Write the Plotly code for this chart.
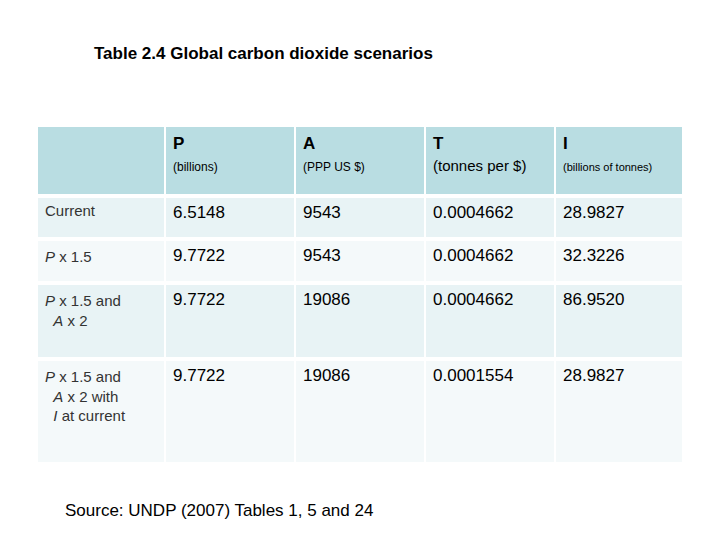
import plotly.graph_objects as go

title = "Table 2.4 Global carbon dioxide scenarios"
col_letters = ["", "P", "A", "T", "I"]
col_units = ["", "(billions)", "(PPP US $)", "(tonnes per $)", "(billions of tonnes)"]
unit_sizes = [12, 12, 12, 15, 11]
row_labels = ["Current", "<i>P</i> x 1.5", "<i>P</i> x 1.5 and<br>  <i>A</i> x 2",
              "<i>P</i> x 1.5 and<br>  <i>A</i> x 2 with<br>  <i>I</i> at current"]
P_vals = ["6.5148", "9.7722", "9.7722", "9.7722"]
A_vals = ["9543", "9543", "19086", "19086"]
T_vals = ["0.0004662", "0.0004662", "0.0004662", "0.0001554"]
I_vals = ["28.9827", "32.3226", "86.9520", "28.9827"]
source = "Source: UNDP (2007) Tables 1, 5 and 24"

W, H = 720, 540
OFF = 8
x0, x1 = 37 - OFF, 683 - OFF
row_tops = [t - OFF for t in [126, 197, 240, 284, 360, 465]]
row_colors = ["#b9dde2", "#e8f3f5", "#f4f9fa", "#e8f3f5", "#f4f9fa"]
col_w = [128, 130, 130, 130, 128]

fig = go.Figure()
hdr = []
for L, u, s in zip(col_letters, col_units, unit_sizes):
    hdr.append(f"<b>{L}</b><br><span style='font-size:{s}px'>{u}</span>" if L else "")
rows = [hdr] + [[row_labels[i], P_vals[i], A_vals[i], T_vals[i], I_vals[i]] for i in range(4)]
for k, r in enumerate(rows):
    top, bot = row_tops[k], row_tops[k + 1]
    h = bot - top
    sizes = [17] * 5 if k == 0 else [15, 17, 17, 17, 17]
    colors = ["black"] * 5 if k == 0 else ["#333333", "black", "black", "black", "black"]
    fig.add_trace(go.Table(
        domain=dict(x=[x0 / W, x1 / W], y=[1 - bot / H, 1 - top / H]),
        columnwidth=col_w,
        header=dict(values=r, height=h - 2, fill_color=row_colors[k],
                    line=dict(color="white", width=2), align="left",
                    font=dict(family="Liberation Sans, Arial", size=sizes, color=colors)),
        cells=dict(values=[[] for _ in r])))

fig.add_annotation(text=f"<b>{title}</b>", x=(92 - OFF) / W, y=1 - (53 - OFF) / H,
                   xref="paper", yref="paper", xanchor="left", yanchor="middle", showarrow=False,
                   font=dict(family="Liberation Sans, Arial", size=17, color="black"))
fig.add_annotation(text=source, x=(63 - OFF) / W, y=1 - (510 - OFF) / H,
                   xref="paper", yref="paper", xanchor="left", yanchor="middle", showarrow=False,
                   font=dict(family="Liberation Sans, Arial", size=17, color="black"))
fig.update_layout(width=W, height=H, margin=dict(l=0, r=0, t=0, b=0),
                  paper_bgcolor="white", plot_bgcolor="white")
fig.write_html("out.html")
